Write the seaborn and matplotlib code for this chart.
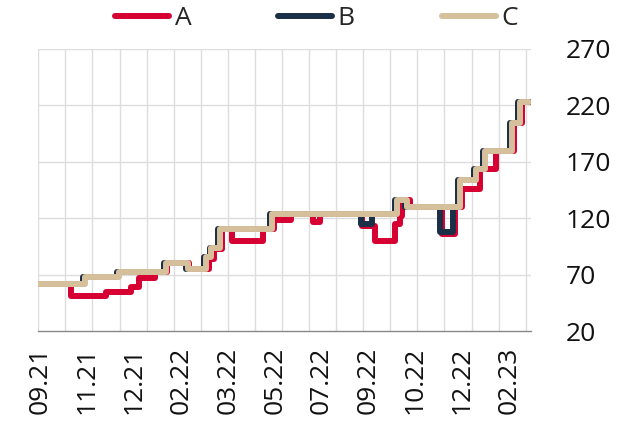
import numpy as np
import pandas as pd
import seaborn as sns
import matplotlib.pyplot as plt

# -------------------------------
# Data (observation index -> level, step changes only)
# -------------------------------
a_day = [0, 34, 71, 97, 105, 122, 134, 157, 178, 184, 192, 202, 235, 246, 264,
         287, 294, 338, 352, 373, 378, 380, 388, 422, 436, 443, 462, 478, 497, 505, 513]
a_val = [62, 51, 55, 59, 67, 72, 80, 75, 84, 93, 110, 100, 110, 118, 124,
         117, 124, 113, 100, 115, 122, 136, 130, 106, 130, 146, 164, 180, 204, 223, 223]

b_day = [0, 47, 82, 131, 154, 173, 179, 188, 242, 337, 349, 373, 383, 420, 433,
         439, 455, 465, 493, 501, 513]
b_val = [62, 68, 72, 80, 75, 86, 94, 110, 124, 115, 124, 136, 130, 108, 130,
         154, 164, 180, 204, 223, 223]

c_day = [0, 49, 84, 133, 156, 175, 181, 190, 244, 375, 385, 441, 457, 467, 495, 503, 513]
c_val = [62, 68, 72, 80, 75, 86, 94, 110, 124, 136, 130, 154, 164, 180, 204, 223, 223]

tick_labels = ["09.21", "11.21", "12.21", "02.22", "03.22", "05.22",
               "07.22", "09.22", "10.22", "12.22", "02.23"]
y_ticks = [20, 70, 120, 170, 220, 270]

colors = {"A": "#d60032", "B": "#1b2f47", "C": "#d6bf9b"}

df = pd.concat([
    pd.DataFrame({"day": a_day, "value": a_val, "series": "A"}),
    pd.DataFrame({"day": b_day, "value": b_val, "series": "B"}),
    pd.DataFrame({"day": c_day, "value": c_val, "series": "C"}),
])

# -------------------------------
# Plot
# -------------------------------
sns.set_theme(style="white")
plt.rcParams['font.family'] = ['Open Sans', 'DejaVu Sans']

fig = plt.figure(figsize=(6.33, 4.26), dpi=100)
ax = fig.add_axes([0.0605, 0.223, 0.7785, 0.662])

sns.lineplot(data=df, x="day", y="value", hue="series", hue_order=["A", "B", "C"],
             palette=colors, drawstyle="steps-post", linewidth=4.3,
             solid_joinstyle="round", solid_capstyle="round", ax=ax, legend=False)

ax.set_xlim(0, 515)
ax.set_ylim(20, 270)

# vertical grid every ~4 weeks, labels every 7 weeks
for gx in np.arange(19) * 28.3:
    ax.axvline(gx, color="#dddddd", lw=1.0, zorder=0)
for gy in y_ticks[1:]:
    ax.axhline(gy, color="#dddddd", lw=1.0, zorder=0)

ax.set_xticks([2 + 49 * i for i in range(len(tick_labels))])
ax.set_xticklabels(tick_labels, rotation=90, fontsize=19, color="#111111")
ax.tick_params(axis="x", length=0, pad=11)

ax.yaxis.tick_right()
ax.set_yticks(y_ticks)
ax.set_yticklabels([str(v) for v in y_ticks], fontsize=19, color="#111111")
ax.tick_params(axis="y", length=0, pad=25)

ax.set_xlabel("")
ax.set_ylabel("")
for s in ["top", "left", "right"]:
    ax.spines[s].set_visible(False)
ax.spines["bottom"].set_color("#888888")
ax.spines["bottom"].set_linewidth(1.0)

handles = [plt.Line2D([], [], color=colors[k], lw=4.3, solid_capstyle="round")
           for k in ["A", "B", "C"]]
fig.legend(handles, ["A", "B", "C"], loc="center", bbox_to_anchor=(0.5, 0.957),
           ncol=3, frameon=False, fontsize=19, handlelength=2.05,
           handletextpad=0.2, columnspacing=3.3)

plt.savefig("out.png", dpi=100)
plt.close()
